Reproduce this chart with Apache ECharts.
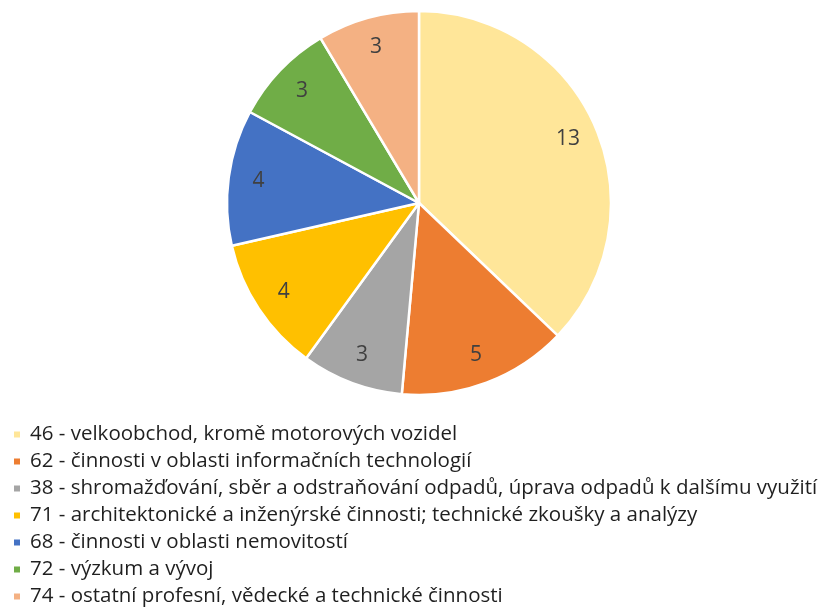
<!DOCTYPE html>
<html>
<head>
<meta charset="utf-8">
<script src="https://cdn.jsdelivr.net/npm/echarts@6/dist/echarts.min.js"></script>
<style>
  html, body { margin: 0; padding: 0; background: #fff; }
  #chart { width: 825px; height: 607px; }
</style>
</head>
<body>
<div id="chart"></div>
<script>
var categories = [
    '46 - velkoobchod, kromě motorových vozidel',
    '62 - činnosti v oblasti informačních technologií',
    '38 - shromažďování, sběr a odstraňování odpadů, úprava odpadů k dalšímu využití',
    '71 - architektonické a inženýrské činnosti; technické zkoušky a analýzy',
    '68 - činnosti v oblasti nemovitostí',
    '72 - výzkum a vývoj',
    '74 - ostatní profesní, vědecké a technické činnosti'
];
var values = [13, 5, 3, 4, 4, 3, 3];
var colors = ['#FFE699', '#ED7D31', '#A5A5A5', '#FFC000', '#4472C4', '#70AD47', '#F4B183'];

var font = 'Open Sans';

var pieData = categories.map(function (name, i) {
    return { name: name, value: values[i], itemStyle: { color: colors[i] } };
});
// stejná data, jen průhledný prstenec kvůli umístění popisků blíž k okraji
var labelData = categories.map(function (name, i) {
    return { name: name, value: values[i], itemStyle: { color: 'rgba(0,0,0,0)' } };
});

var myChart = echarts.init(document.getElementById('chart'));
var option = {
    animation: false,
    color: colors,
    legend: {
        orient: 'vertical',
        left: 12,
        top: 424,
        height: 400,
        padding: 0,
        itemWidth: 8,
        itemHeight: 8,
        itemGap: 6,
        icon: 'rect',
        data: categories,
        textStyle: {
            fontFamily: font,
            fontSize: 20.5,
            lineHeight: 19,
            color: '#1f1f1f',
            padding: [0, 0, 0, 4]
        }
    },
    series: [{
        type: 'pie',
        center: [419, 203],
        radius: [0, 192],
        startAngle: 90,
        clockwise: true,
        data: pieData,
        label: { show: false },
        labelLine: { show: false },
        itemStyle: { borderColor: '#fff', borderWidth: 2.5 },
        emphasis: { disabled: true }
    }, {
        type: 'pie',
        center: [419, 203],
        radius: [126, 192],
        startAngle: 90,
        clockwise: true,
        silent: true,
        data: labelData,
        itemStyle: { borderWidth: 0 },
        label: {
            show: true,
            position: 'inside',
            formatter: '{c}',
            fontFamily: font,
            fontSize: 21,
            color: '#404040'
        },
        labelLine: { show: false },
        emphasis: { disabled: true }
    }]
};
myChart.setOption(option);
</script>
</body>
</html>
